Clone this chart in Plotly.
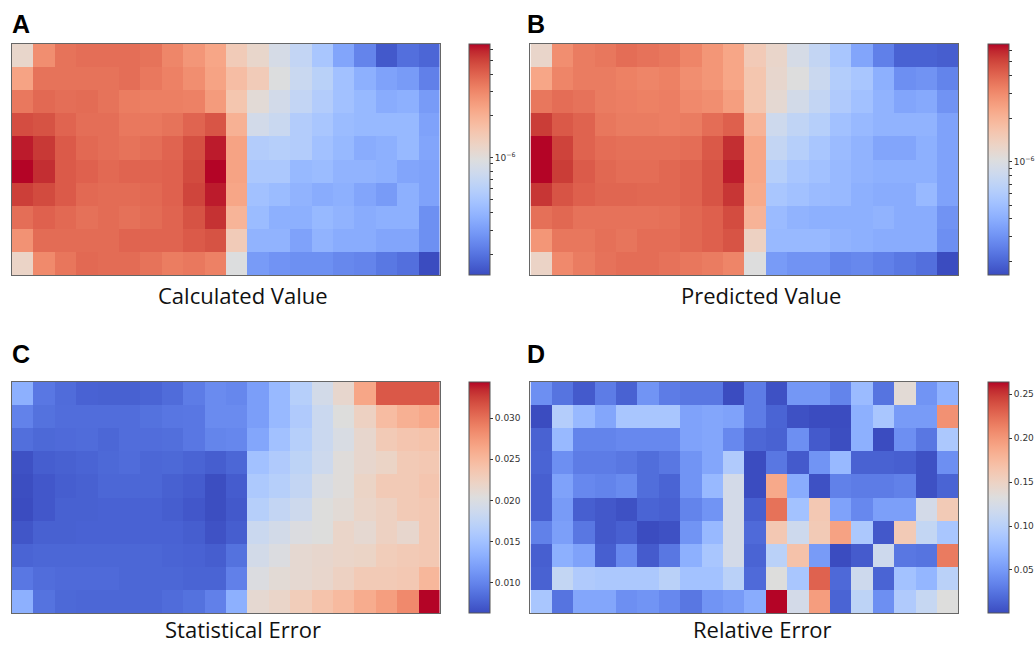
import numpy as np
import plotly.graph_objects as go

# ---------------- data ----------------
# Panel A: calculated value, in units of 1e-6 (log colour scale)
calc_value_e6 = [
    [1.16, 2.82, 3.54, 3.68, 3.68, 3.68, 3.54, 3.04, 2.62, 2.24, 1.41, 1.16, .857, .682, .503, .330, .234, .159, .193, .178],
    [2.32, 3.54, 3.54, 3.54, 3.54, 3.68, 3.41, 3.16, 2.82, 2.32, 1.71, 1.41, .960, .736, .609, .467, .371, .319, .295, .226],
    [3.41, 3.82, 3.68, 3.75, 3.54, 3.28, 3.22, 3.22, 3.16, 2.52, 1.53, 1.04, .825, .682, .564, .467, .416, .357, .371, .295],
    [4.70, 4.53, 3.97, 3.68, 3.68, 3.41, 3.41, 3.54, 3.97, 4.44, 2.00, .825, .736, .564, .503, .433, .416, .416, .416, .319],
    [6.13, 5.36, 4.28, 3.82, 3.68, 3.54, 3.68, 3.97, 4.61, 6.13, 2.32, .564, .586, .564, .467, .416, .357, .371, .416, .330],
    [6.62, 5.67, 4.28, 4.05, 3.82, 3.97, 3.97, 4.05, 4.78, 6.62, 2.32, .523, .523, .416, .433, .386, .386, .371, .330, .319],
    [5.16, 4.78, 4.28, 3.82, 3.75, 3.75, 3.82, 4.05, 4.96, 6.13, 2.24, .467, .433, .386, .357, .371, .330, .295, .371, .319],
    [3.68, 4.05, 3.82, 3.61, 3.75, 3.61, 3.75, 3.97, 4.53, 5.55, 1.92, .433, .371, .371, .416, .386, .357, .371, .371, .263],
    [2.72, 3.75, 3.75, 3.75, 3.75, 3.97, 3.97, 3.97, 4.28, 4.53, 1.41, .386, .386, .319, .386, .357, .357, .330, .330, .263],
    [1.21, 2.93, 3.47, 3.82, 3.75, 3.75, 3.54, 3.28, 3.41, 3.16, .960, .295, .273, .263, .263, .243, .234, .209, .193, .142],
]

# Panel B: predicted value, in units of 1e-6 (log colour scale)
pred_value_e6 = [
    [1.25, 2.94, 3.41, 3.54, 3.81, 3.67, 3.54, 3.16, 2.73, 2.35, 1.51, 1.25, .930, .744, .552, .367, .253, .195, .195, .188],
    [2.35, 3.16, 3.41, 3.41, 3.28, 3.16, 3.28, 2.94, 2.73, 2.35, 1.62, 1.21, 1.04, .801, .617, .552, .411, .293, .304, .262],
    [3.54, 3.81, 3.67, 3.41, 3.34, 3.28, 3.34, 3.05, 2.94, 2.53, 1.62, 1.16, .896, .744, .595, .513, .426, .367, .381, .304],
    [5.33, 4.42, 4.11, 3.54, 3.41, 3.41, 3.34, 3.41, 3.81, 4.19, 2.03, .832, .717, .641, .513, .459, .426, .426, .426, .353],
    [6.68, 5.13, 4.11, 3.81, 3.74, 3.74, 3.74, 3.81, 4.42, 5.74, 2.35, .744, .641, .552, .476, .426, .367, .367, .411, .353],
    [6.68, 5.33, 4.35, 3.96, 3.81, 3.81, 3.96, 4.11, 4.59, 6.19, 2.35, .641, .552, .513, .459, .426, .411, .411, .411, .353],
    [5.53, 4.59, 4.19, 4.03, 4.03, 3.96, 3.96, 4.11, 4.59, 5.53, 2.26, .552, .513, .476, .459, .411, .395, .395, .459, .353],
    [3.74, 3.96, 3.67, 3.67, 3.67, 3.67, 3.74, 3.96, 4.19, 4.85, 2.03, .476, .426, .411, .411, .411, .426, .395, .395, .304],
    [2.73, 3.54, 3.54, 3.74, 3.60, 3.81, 3.81, 3.96, 4.19, 4.59, 1.35, .459, .459, .459, .426, .411, .395, .395, .395, .293],
    [1.30, 3.05, 3.41, 3.67, 3.81, 3.81, 3.67, 3.54, 3.41, 3.16, 1.04, .328, .304, .304, .262, .272, .253, .235, .218, .162],
]

# Panel C: statistical error
stat_error = [
    [.0133, .0091, .0083, .0077, .0076, .0076, .0078, .0083, .0094, .0105, .0102, .0119, .0142, .0167, .0192, .0215, .0265, .0313, .0313, .0313],
    [.0098, .0087, .0084, .0084, .0084, .0084, .0087, .0090, .0091, .0105, .0105, .0119, .0142, .0161, .0184, .0204, .0223, .0246, .0257, .0263],
    [.0085, .0081, .0082, .0083, .0080, .0084, .0084, .0085, .0091, .0100, .0102, .0125, .0150, .0167, .0184, .0198, .0215, .0232, .0237, .0240],
    [.0066, .0074, .0076, .0078, .0081, .0083, .0080, .0081, .0078, .0074, .0080, .0150, .0161, .0173, .0187, .0206, .0215, .0220, .0232, .0234],
    [.0064, .0070, .0074, .0076, .0080, .0080, .0080, .0076, .0073, .0064, .0073, .0159, .0167, .0178, .0198, .0206, .0220, .0232, .0232, .0237],
    [.0063, .0070, .0076, .0076, .0077, .0077, .0077, .0074, .0070, .0064, .0071, .0167, .0178, .0187, .0204, .0209, .0218, .0223, .0232, .0234],
    [.0069, .0076, .0076, .0077, .0077, .0077, .0077, .0077, .0074, .0067, .0074, .0184, .0192, .0201, .0204, .0218, .0212, .0223, .0215, .0234],
    [.0078, .0080, .0080, .0080, .0080, .0080, .0080, .0078, .0077, .0074, .0087, .0192, .0201, .0212, .0215, .0218, .0220, .0229, .0232, .0234],
    [.0091, .0084, .0082, .0082, .0082, .0080, .0080, .0080, .0078, .0078, .0097, .0201, .0209, .0212, .0216, .0223, .0232, .0232, .0234, .0251],
    [.0133, .0088, .0081, .0080, .0080, .0080, .0080, .0083, .0087, .0097, .0133, .0212, .0218, .0229, .0240, .0248, .0260, .0271, .0285, .0344],
]

# Panel D: relative error
rel_error = [
    [.043, .025, .009, .030, .014, .046, .030, .027, .027, .001, .030, .004, .048, .048, .035, .077, .025, .138, .046, .069],
    [.001, .096, .075, .059, .088, .088, .088, .056, .059, .056, .030, .015, .004, .001, .001, .067, .088, .051, .051, .204],
    [.014, .075, .035, .035, .038, .038, .038, .056, .059, .038, .017, .014, .043, .009, .002, .067, .001, .043, .027, .090],
    [.015, .043, .030, .030, .027, .021, .027, .046, .059, .093, .001, .027, .009, .046, .075, .014, .014, .012, .004, .043],
    [.012, .056, .038, .035, .040, .021, .015, .046, .075, .122, .001, .188, .064, .004, .033, .030, .030, .033, .004, .015],
    [.012, .051, .012, .008, .004, .015, .013, .035, .046, .122, .012, .222, .083, .161, .056, .038, .054, .054, .122, .159],
    [.033, .054, .027, .008, .013, .001, .004, .046, .075, .122, .019, .161, .117, .159, .193, .090, .008, .159, .109, .088],
    [.012, .067, .056, .012, .038, .010, .027, .067, .088, .122, .015, .101, .167, .051, .001, .010, .117, .027, .025, .217],
    [.014, .109, .093, .090, .090, .090, .101, .083, .083, .101, .019, .133, .088, .230, .018, .117, .015, .083, .072, .101],
    [.088, .025, .059, .059, .043, .046, .038, .027, .046, .051, .064, .264, .122, .196, .015, .104, .043, .093, .111, .133],
]

panel_titles = ["Calculated Value", "Predicted Value", "Statistical Error", "Relative Error"]
panel_letters = ["A", "B", "C", "D"]
stat_ticks = [0.010, 0.015, 0.020, 0.025, 0.030]
rel_ticks = [0.05, 0.10, 0.15, 0.20, 0.25]
stat_range = [0.0063, 0.0344]
rel_range = [0.001, 0.264]

# matplotlib "coolwarm"
coolwarm_rgb = [
    (59, 76, 192), (68, 90, 204), (77, 104, 215), (87, 117, 225), (98, 130, 234),
    (108, 142, 241), (119, 154, 247), (130, 165, 251), (141, 176, 254), (152, 185, 255),
    (163, 194, 255), (174, 201, 253), (184, 208, 249), (194, 213, 244), (204, 217, 238),
    (213, 219, 230), (221, 221, 221), (229, 216, 209), (236, 211, 197), (241, 204, 185),
    (245, 196, 173), (247, 187, 160), (247, 177, 148), (247, 166, 135), (244, 154, 123),
    (241, 141, 111), (236, 127, 99), (229, 112, 88), (222, 96, 77), (213, 80, 66),
    (203, 62, 56), (192, 40, 47), (180, 4, 38),
]
n = len(coolwarm_rgb) - 1
coolwarm = [[i / n, "rgb(%d,%d,%d)" % c] for i, c in enumerate(coolwarm_rgb)]

# ---------------- layout geometry (pixels) ----------------
W, H = 1035, 646
def fx(p):
    return p / W
def fy(p):
    return 1 - p / H

heat_x = [(12, 440), (531, 959), (12, 440), (531, 959)]
heat_y = [(44, 275), (44, 275), (382, 613), (382, 613)]
cbar_x = [469, 988, 469, 988]
title_x = [243, 762, 243, 763]
title_bottom = [312, 312, 646, 646]
letter_x = [10, 526, 10, 526]
letter_y = [24, 24, 354, 354]

FONT = "DejaVu Sans"

def log_ticks(vmin, vmax):
    vals, texts = [], []
    for e in (-8, -7, -6, -5):
        for k in range(1, 10):
            v = k * 10.0 ** e
            if vmin <= v <= vmax:
                vals.append(np.log10(v))
                texts.append("10<sup>\u22126</sup>" if (k == 1 and e == -6) else "")
    return vals, texts

fig = go.Figure()

datasets = [
    np.array(calc_value_e6) * 1e-6,
    np.array(pred_value_e6) * 1e-6,
    np.array(stat_error),
    np.array(rel_error),
]

for i, data in enumerate(datasets):
    ax = "" if i == 0 else str(i + 1)
    x0, x1 = heat_x[i]
    y0, y1 = heat_y[i]
    cb = dict(
        thickness=21, thicknessmode="pixels",
        len=(y1 - y0), lenmode="pixels",
        x=fx(cbar_x[i]), xanchor="left", xpad=0,
        y=fy((y0 + y1) / 2), yanchor="middle", ypad=0,
        outlinewidth=1, outlinecolor="#555",
        ticks="outside", ticklen=3, tickwidth=1, tickcolor="#333",
        tickfont=dict(family=FONT, size=9, color="#333"),
    )
    extra = {}
    if i < 2:
        z = np.log10(data)
        tv, tt = log_ticks(data.min(), data.max())
        cb.update(tickmode="array", tickvals=tv, ticktext=tt)
        hover = "%{customdata:.3g}<extra></extra>"
    else:
        z = data
        ticks = stat_ticks if i == 2 else rel_ticks
        fmt = "%.3f" if i == 2 else "%.2f"
        cb.update(tickmode="array", tickvals=ticks, ticktext=[fmt % t for t in ticks])
        rng = stat_range if i == 2 else rel_range
        extra = dict(zmin=rng[0], zmax=rng[1])
        hover = "%{customdata:.4f}<extra></extra>"
    fig.add_trace(go.Heatmap(
        z=z, customdata=data, hovertemplate=hover,
        colorscale=coolwarm, colorbar=cb,
        xaxis="x" + ax, yaxis="y" + ax, **extra,
    ))
    axis_common = dict(showticklabels=False, ticks="", showgrid=False, zeroline=False,
                       showline=True, mirror=True, linecolor="#666", linewidth=1)
    fig.update_layout(**{
        "xaxis" + ax: dict(domain=[fx(x0), fx(x1)], range=[-0.5, 19.5],
                           anchor="y" + ax, **axis_common),
        "yaxis" + ax: dict(domain=[fy(y1), fy(y0)], range=[9.5, -0.5],
                           anchor="x" + ax, **axis_common),
    })
    fig.add_annotation(text=panel_titles[i], xref="paper", yref="paper",
                       x=fx(title_x[i]), y=fy(title_bottom[i]), xanchor="center", yanchor="bottom",
                       showarrow=False, font=dict(family="Open Sans", size=22, color="#111"))
    fig.add_annotation(text="<b>%s</b>" % panel_letters[i], xref="paper", yref="paper",
                       x=fx(letter_x[i]), y=fy(letter_y[i]), xanchor="left", yanchor="middle",
                       showarrow=False, font=dict(family="Liberation Sans", size=25, color="#000"))

fig.update_layout(
    width=W, height=H,
    margin=dict(l=0, r=0, t=0, b=0),
    paper_bgcolor="white", plot_bgcolor="white",
    showlegend=False,
)

fig.write_html("out.html")
